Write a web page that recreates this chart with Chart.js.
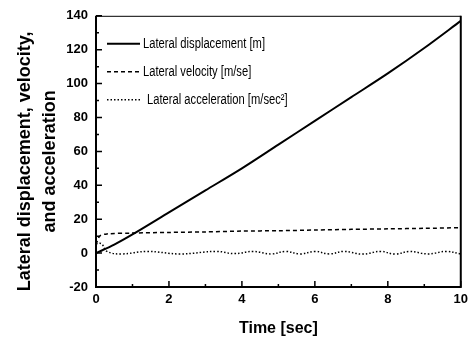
<!DOCTYPE html>
<html>
<head>
<meta charset="utf-8">
<script src="https://cdn.jsdelivr.net/npm/chart.js@4/dist/chart.umd.min.js"></script>
<style>
  html,body{margin:0;padding:0;background:#fff;}
  #wrap{width:473px;height:342px;}
</style>
</head>
<body>
<div id="wrap"><canvas id="c" width="473" height="342"></canvas></div>
<script>
// ===== data =====
const dispTime = [0, 0.5, 1, 2, 3, 4, 5, 6, 7, 8, 9, 10];
const dispVals = [0, 5, 11, 24, 37, 50, 64, 78, 92, 106, 121, 137];

const velTime = [0, 0.1, 0.3, 1, 2, 3, 4, 5, 6, 7, 8, 9, 10];
const velVals = [5, 10, 11.3, 11.8, 12.2, 12.5, 13, 13.2, 13.6, 14, 14.3, 14.6, 15];

const accTime = [0, 0.15, 0.3, 0.7, 1.4, 2.3, 3.3, 3.8, 4.3, 4.8, 5.2, 5.6, 6.0, 6.4, 6.8, 7.3, 7.8, 8.2, 8.6, 9.1, 9.6, 10];
const accVals = [5.5, 5.5, 1, -0.5, 1, -0.5, 1, -0.3, 1, -0.5, 1, -0.5, 1, -0.5, 1, -0.6, 1, -0.6, 1, -0.5, 1, -0.5];

const seriesLabels = ['Lateral displacement [m]', 'Lateral velocity [m/se]', 'Lateral acceleration [m/sec\u00B2]'];
const yTitle = ['Lateral displacement, velocity,', 'and acceleration'];
const xTicks = [0, 2, 4, 6, 8, 10];
const yTicks = [-20, 0, 20, 40, 60, 80, 100, 120, 140];

const FONT = "'Liberation Sans', Arial, sans-serif";
const pts = (xs, ys) => xs.map((x,i)=>({x, y:ys[i]}));

// frame, inward ticks, y title and in-plot legend
const framePlugin = {
  id:'frame',
  afterDatasetsDraw(chart){
    const {ctx, chartArea:a, scales:{x, y}} = chart;
    ctx.save();
    ctx.strokeStyle = '#000';
    ctx.lineCap = 'butt';
    // frame
    ctx.lineWidth = 2;
    ctx.beginPath();
    ctx.moveTo(a.left, a.top); ctx.lineTo(a.left, a.bottom); ctx.lineTo(a.right, a.bottom); ctx.lineTo(a.right, a.top);
    ctx.stroke();
    ctx.lineWidth = 1;
    ctx.beginPath(); ctx.moveTo(a.left, a.top+0.5); ctx.lineTo(a.right, a.top+0.5); ctx.stroke();
    // inward ticks
    ctx.lineWidth = 1.5;
    ctx.beginPath();
    xTicks.forEach((v,i)=>{
      const px = x.getPixelForValue(v);
      ctx.moveTo(px, a.bottom); ctx.lineTo(px, a.bottom-6);
      if(i<xTicks.length-1){
        const pm = x.getPixelForValue(v+1);
        ctx.moveTo(pm, a.bottom); ctx.lineTo(pm, a.bottom-3);
      }
    });
    yTicks.forEach((v,i)=>{
      const py = y.getPixelForValue(v);
      ctx.moveTo(a.left, py); ctx.lineTo(a.left+6, py);
      if(i<yTicks.length-1){
        const pm = y.getPixelForValue(v+10);
        ctx.moveTo(a.left, pm); ctx.lineTo(a.left+3, pm);
      }
    });
    ctx.stroke();
    // y title (sits a bit below the plot centre in the original)
    ctx.fillStyle = '#000';
    ctx.save();
    ctx.translate(0, (a.top+a.bottom)/2 + 10);
    ctx.rotate(-Math.PI/2);
    ctx.font = 'bold 18px '+FONT;
    ctx.textAlign = 'center';
    ctx.textBaseline = 'middle';
    yTitle.forEach((t,i)=> ctx.fillText(t, 0, 25 + i*25));
    ctx.restore();
    // legend (condensed text like the original)
    ctx.font = '14px '+FONT;
    ctx.textBaseline = 'middle';
    chart.data.datasets.forEach((ds,i)=>{
      const ly = a.top + 28 + i*28;
      const lx = a.left + 11;
      ctx.lineWidth = ds.borderWidth;
      ctx.setLineDash(ds.borderDash || []);
      ctx.beginPath(); ctx.moveTo(lx, ly); ctx.lineTo(lx+33, ly); ctx.stroke();
      ctx.setLineDash([]);
      ctx.save();
      ctx.translate(lx+36 + (i===2?4:0), ly);
      ctx.scale(0.8, 1);
      ctx.fillText(ds.label, 0, 0);
      ctx.restore();
    });
    ctx.restore();
  }
};

new Chart(document.getElementById('c').getContext('2d'), {
  type:'line',
  data:{datasets:[
    {label:seriesLabels[0], data:pts(dispTime, dispVals), borderColor:'#000', borderWidth:2, tension:0.3},
    {label:seriesLabels[1], data:pts(velTime, velVals), borderColor:'#000', borderWidth:1.5, borderDash:[4,3], tension:0.3},
    {label:seriesLabels[2], data:pts(accTime, accVals), borderColor:'#000', borderWidth:1.5, borderDash:[1.5,2], tension:0.4}
  ]},
  options:{
    responsive:false, animation:false,
    elements:{point:{radius:0}},
    layout:{padding:{top:15, right:10, left:0, bottom:0}},
    plugins:{legend:{display:false}, tooltip:{enabled:false}},
    scales:{
      x:{type:'linear', min:0, max:10,
        afterBuildTicks:s=>{ s.ticks = xTicks.map(v=>({value:v})); },
        afterFit:s=>{ s.height = 55; },
        grid:{display:false, drawTicks:false}, border:{display:false},
        ticks:{color:'#000', padding:5, font:{family:FONT, size:13, weight:'bold'}},
        title:{display:true, text:'Time [sec]', color:'#000', padding:{top:10}, font:{family:FONT, size:16, weight:'bold'}}},
      y:{type:'linear', min:-20, max:140,
        afterBuildTicks:s=>{ s.ticks = yTicks.map(v=>({value:v})); },
        afterFit:s=>{ s.width = 96; },
        grid:{display:false, drawTicks:false}, border:{display:false},
        ticks:{color:'#000', padding:8, font:{family:FONT, size:13, weight:'bold'}},
        title:{display:false}}
    }
  },
  plugins:[framePlugin]
});
</script>
</body>
</html>
